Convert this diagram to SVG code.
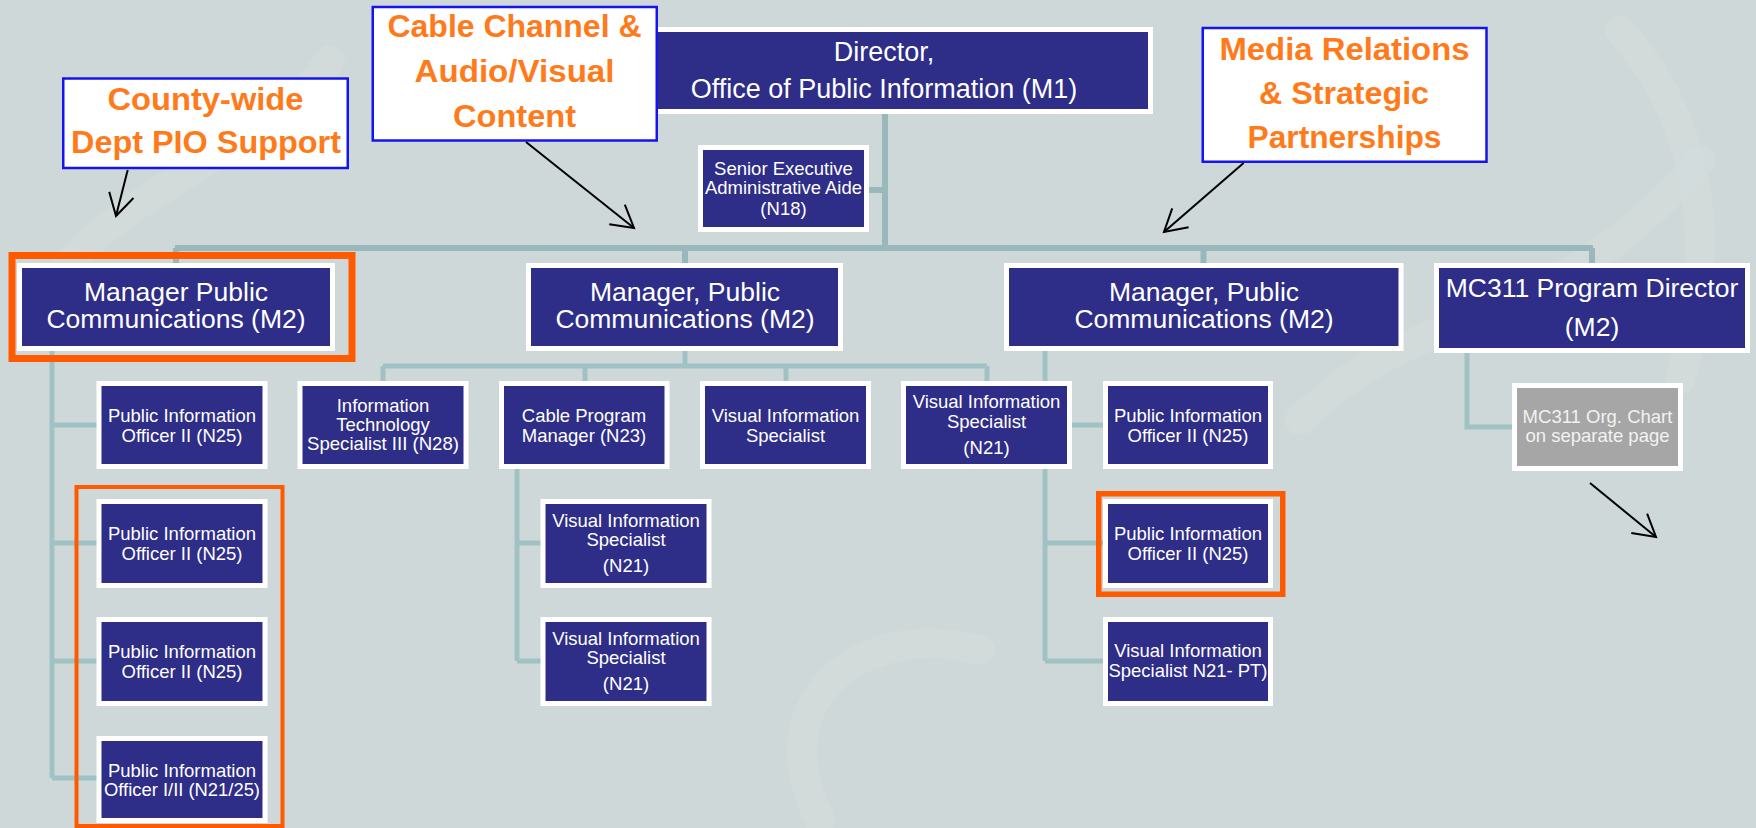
<svg xmlns="http://www.w3.org/2000/svg" width="1756" height="828" viewBox="0 0 1756 828">
  <style>
    .bg { fill: #CFD8D8; }
    .swirl { fill: none; stroke: #D8E0E0; stroke-width: 30; stroke-linecap: round; opacity: 0.35; }
    .conn { fill: none; stroke: #A0C2C4; stroke-width: 5; }
    .trunk { stroke: #98B8BB; stroke-width: 6; }
    .box { fill: #2E2D87; stroke: #FFFFFF; stroke-width: 5; }
    .box.gray { fill: #A6A6A6; }
    .t { font-family: "Liberation Sans", Arial, sans-serif; fill: #FFFFFF; text-anchor: middle; }
    .big { font-size: 26.5px; }
    .dir { font-size: 27px; }
    .sm { font-size: 18.5px; }
    .muted { fill: #F2F2F2; }
    .hl { fill: none; stroke: #FF5A00; }
    .note { fill: #FFFFFF; stroke: #1414F0; stroke-width: 2.5; }
    .nt { font-family: "Liberation Sans", Arial, sans-serif; font-weight: bold; font-size: 31px; fill: #FF7A1A; text-anchor: middle; }
    .arrow { fill: none; stroke: #000000; stroke-width: 2; marker-end: url(#vhead); }
  </style>
  <defs>
    <marker id="vhead" markerUnits="userSpaceOnUse" markerWidth="30" markerHeight="30" refX="0" refY="0" orient="auto" overflow="visible">
      <path d="M-21.7,-12.5 L0,0 L-21.7,12.5" fill="none" stroke="#000000" stroke-width="2"/>
    </marker>
  </defs>

  <!-- backdrop with faint watermark curves -->
  <rect class="bg" x="0" y="0" width="1756" height="828"/>
  <g id="watermark">
    <path class="swirl" d="M40,300 C120,180 260,160 330,60"/>
    <path class="swirl" d="M1300,420 C1420,300 1560,330 1700,160"/>
    <path class="swirl" d="M820,820 C760,700 860,620 980,650"/>
    <path class="swirl" d="M1620,30 C1700,120 1720,240 1680,380"/>
  </g>

  <!-- reporting lines -->
  <g id="connectors">
    <path class="conn trunk" d="M885,114 V248 M864,190 H885"/>
    <path class="conn trunk" d="M175,248 H1593 M176,248 V263 M685,248 V263 M1203.5,248 V263 M1592,248 V263"/>
    <!-- county-wide team -->
    <path class="conn" d="M52,351 V778 M52,425 H97 M52,543 H97 M52,661 H97 M52,778 H97"/>
    <!-- cable / audio-visual team -->
    <path class="conn" d="M685,351 V366 M383,366 H987 M383,366 V381 M585,366 V381 M786,366 V381 M987,366 V381"/>
    <path class="conn" d="M517,469 V661 M517,543 H541 M517,661 H541"/>
    <!-- media relations team -->
    <path class="conn" d="M1045,351 V661 M1045,425 H1103 M1045,543 H1103 M1045,661 H1103"/>
    <!-- MC311 -->
    <path class="conn" d="M1467,353 V427 H1512"/>
  </g>

  <g id="director">
    <rect class="box" x="654.5" y="29.5" width="496" height="82"/>
    <text class="t dir" x="884" y="61">Director,</text>
    <text class="t dir" x="884" y="98">Office of Public Information (M1)</text>
  </g>
  <g id="aide">
    <rect class="box" x="700.5" y="147.5" width="166" height="82"/>
    <text class="t sm" x="783.5" y="175">Senior Executive</text>
    <text class="t sm" x="783.5" y="194" textLength="157" lengthAdjust="spacingAndGlyphs">Administrative Aide</text>
    <text class="t sm" x="783.5" y="215">(N18)</text>
  </g>

  <g id="mgr-countywide">
    <rect class="box" x="19.5" y="265.5" width="313" height="83"/>
    <text class="t big" x="176" y="301">Manager Public</text>
    <text class="t big" x="176" y="328">Communications (M2)</text>
  </g>
  <g id="mgr-cable">
    <rect class="box" x="528.5" y="265.5" width="312" height="83"/>
    <text class="t big" x="685" y="301">Manager, Public</text>
    <text class="t big" x="685" y="328">Communications (M2)</text>
  </g>
  <g id="mgr-media">
    <rect class="box" x="1006.5" y="265.5" width="394.5" height="83"/>
    <text class="t big" x="1204" y="301">Manager, Public</text>
    <text class="t big" x="1204" y="328">Communications (M2)</text>
  </g>
  <g id="mc311-director">
    <rect class="box" x="1436.5" y="265.5" width="311" height="85"/>
    <text class="t big" x="1592" y="297">MC311 Program Director</text>
    <text class="t big" x="1592" y="336">(M2)</text>
  </g>

  <g id="pio-l1">
    <rect class="box" x="99" y="383.5" width="166" height="83"/>
    <text class="t sm" x="182" y="422">Public Information</text>
    <text class="t sm" x="182" y="442">Officer II (N25)</text>
  </g>
  <g id="pio-l2">
    <rect class="box" x="99" y="501.5" width="166" height="84"/>
    <text class="t sm" x="182" y="540">Public Information</text>
    <text class="t sm" x="182" y="560">Officer II (N25)</text>
  </g>
  <g id="pio-l3">
    <rect class="box" x="99" y="619.5" width="166" height="84"/>
    <text class="t sm" x="182" y="658">Public Information</text>
    <text class="t sm" x="182" y="678">Officer II (N25)</text>
  </g>
  <g id="pio-l4">
    <rect class="box" x="99" y="738.5" width="166" height="82"/>
    <text class="t sm" x="182" y="777">Public Information</text>
    <text class="t sm" x="182" y="796" textLength="156" lengthAdjust="spacingAndGlyphs">Officer I/II (N21/25)</text>
  </g>

  <g id="it-specialist">
    <rect class="box" x="300" y="383.5" width="166" height="83"/>
    <text class="t sm" x="383" y="412">Information</text>
    <text class="t sm" x="383" y="431">Technology</text>
    <text class="t sm" x="383" y="450" textLength="152" lengthAdjust="spacingAndGlyphs">Specialist III (N28)</text>
  </g>
  <g id="cable-program-manager">
    <rect class="box" x="501.5" y="383.5" width="165.5" height="83"/>
    <text class="t sm" x="584" y="422">Cable Program</text>
    <text class="t sm" x="584" y="442">Manager (N23)</text>
  </g>
  <g id="visual-specialist">
    <rect class="box" x="702.5" y="383.5" width="166" height="83"/>
    <text class="t sm" x="785.5" y="422">Visual Information</text>
    <text class="t sm" x="785.5" y="442">Specialist</text>
  </g>
  <g id="visual-n21-a">
    <rect class="box" x="543" y="501.5" width="166" height="84"/>
    <text class="t sm" x="626" y="527">Visual Information</text>
    <text class="t sm" x="626" y="546">Specialist</text>
    <text class="t sm" x="626" y="572">(N21)</text>
  </g>
  <g id="visual-n21-b">
    <rect class="box" x="543" y="619.5" width="166" height="84"/>
    <text class="t sm" x="626" y="645">Visual Information</text>
    <text class="t sm" x="626" y="664">Specialist</text>
    <text class="t sm" x="626" y="690">(N21)</text>
  </g>

  <g id="visual-n21-c">
    <rect class="box" x="903.5" y="383.5" width="166" height="83"/>
    <text class="t sm" x="986.5" y="408">Visual Information</text>
    <text class="t sm" x="986.5" y="428">Specialist</text>
    <text class="t sm" x="986.5" y="454">(N21)</text>
  </g>
  <g id="pio-r1">
    <rect class="box" x="1105.5" y="383.5" width="165" height="83"/>
    <text class="t sm" x="1188" y="422">Public Information</text>
    <text class="t sm" x="1188" y="442">Officer II (N25)</text>
  </g>
  <g id="pio-r2">
    <rect class="box" x="1105.5" y="501.5" width="165" height="84"/>
    <text class="t sm" x="1188" y="540">Public Information</text>
    <text class="t sm" x="1188" y="560">Officer II (N25)</text>
  </g>
  <g id="visual-pt">
    <rect class="box" x="1105.5" y="619.5" width="165" height="84"/>
    <text class="t sm" x="1188" y="657">Visual Information</text>
    <text class="t sm" x="1188" y="677" textLength="159" lengthAdjust="spacingAndGlyphs">Specialist N21- PT)</text>
  </g>

  <g id="mc311-chart">
    <rect class="box gray" x="1514.5" y="385.5" width="166" height="83"/>
    <text class="t sm muted" x="1597.5" y="423">MC311 Org. Chart</text>
    <text class="t sm muted" x="1597.5" y="442">on separate page</text>
  </g>

  <!-- highlight frames -->
  <g id="highlights">
    <rect class="hl" x="12" y="255.5" width="340" height="103" stroke-width="7"/>
    <rect class="hl" x="76.5" y="487" width="206" height="339" stroke-width="4"/>
    <rect class="hl" x="1098.75" y="493.75" width="184" height="100.5" stroke-width="5.5"/>
  </g>

  <!-- callouts -->
  <g id="note-countywide">
    <rect class="note" x="63.25" y="78.5" width="284.5" height="89.5"/>
    <text class="nt" x="205.5" y="110" textLength="196" lengthAdjust="spacingAndGlyphs">County-wide</text>
    <text class="nt" x="206" y="153" textLength="270" lengthAdjust="spacingAndGlyphs">Dept PIO Support</text>
  </g>
  <g id="note-cable">
    <rect class="note" x="372.75" y="7" width="284" height="133.5"/>
    <text class="nt" x="514.5" y="37" textLength="254" lengthAdjust="spacingAndGlyphs">Cable Channel &amp;</text>
    <text class="nt" x="514.5" y="82" textLength="200" lengthAdjust="spacingAndGlyphs">Audio/Visual</text>
    <text class="nt" x="514.5" y="127" textLength="123" lengthAdjust="spacingAndGlyphs">Content</text>
  </g>
  <g id="note-media">
    <rect class="note" x="1202.75" y="28" width="283.75" height="133.75"/>
    <text class="nt" x="1344.5" y="60" textLength="250" lengthAdjust="spacingAndGlyphs">Media Relations</text>
    <text class="nt" x="1344" y="103.5" textLength="170" lengthAdjust="spacingAndGlyphs">&amp; Strategic</text>
    <text class="nt" x="1344.5" y="148" textLength="194" lengthAdjust="spacingAndGlyphs">Partnerships</text>
  </g>

  <g id="pointers">
    <path class="arrow" d="M127.7,170 L116,216"/>
    <path class="arrow" d="M526,142 L634,228"/>
    <path class="arrow" d="M1243.6,163 L1164,232"/>
    <path class="arrow" d="M1590,483 L1656,537"/>
  </g>
</svg>
